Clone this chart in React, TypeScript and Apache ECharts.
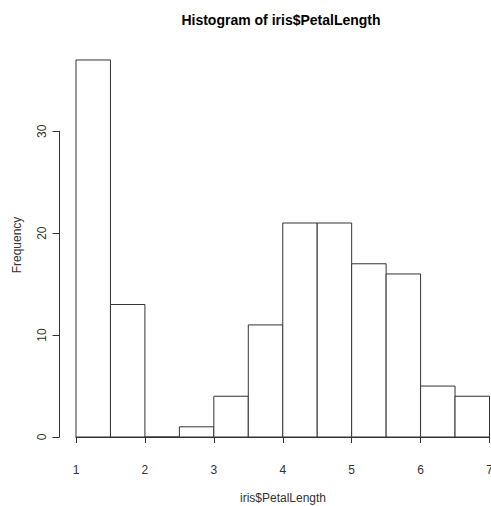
import React, { useEffect, useRef } from "react";
import * as echarts from "echarts";

const breaksStart = [1, 1.5, 2, 2.5, 3, 3.5, 4, 4.5, 5, 5.5, 6, 6.5];
const breaksEnd = [1.5, 2, 2.5, 3, 3.5, 4, 4.5, 5, 5.5, 6, 6.5, 7];
const counts = [37, 13, 0, 1, 4, 11, 21, 21, 17, 16, 5, 4];
const xTicks = [1, 2, 3, 4, 5, 6, 7];
const yTicks = [0, 10, 20, 30];

const FONT = "'Liberation Sans', Arial, Helvetica, sans-serif";
const LINE = "#333";
const TEXT = "#333";

export default function App() {
  const ref = useRef<HTMLDivElement>(null);
  useEffect(() => {
    document.body.style.margin = "0";
    const chart = echarts.init(ref.current!, undefined, { renderer: "svg" });
    const data = breaksStart.map((s, i) => [s, breaksEnd[i], counts[i]]);
    chart.setOption({
      animation: false,
      backgroundColor: "#fff",
      textStyle: { fontFamily: FONT },
      grid: [
        { left: 76, right: 1.5, top: 29.4, bottom: 69, containLabel: false, outerBoundsMode: "none" },
        { left: 76, right: 1.5, top: 131.3, bottom: 69, containLabel: false, outerBoundsMode: "none" },
      ],
      xAxis: [
        {
          type: "value",
          gridIndex: 0,
          min: xTicks[0],
          max: xTicks[xTicks.length - 1],
          interval: 1,
          position: "bottom",
          offset: 15.5,
          axisLine: { show: true, lineStyle: { color: LINE, width: 1 } },
          axisTick: { show: true, length: 6, inside: false, lineStyle: { color: LINE } },
          axisLabel: { show: true, margin: 11, color: TEXT, fontSize: 12, fontFamily: FONT, showMinLabel: true, showMaxLabel: true },
          splitLine: { show: false },
        },
        { type: "value", gridIndex: 1, min: 1, max: 7, show: false },
      ],
      yAxis: [
        { type: "value", gridIndex: 0, min: 0, max: 40, show: false },
        {
          type: "value",
          gridIndex: 1,
          min: yTicks[0],
          max: yTicks[yTicks.length - 1],
          interval: 10,
          position: "left",
          offset: 16.5,
          axisLine: { show: true, lineStyle: { color: LINE, width: 1 } },
          axisTick: { show: true, length: 7, inside: false, lineStyle: { color: LINE } },
          axisLabel: { show: true, rotate: 90, margin: 12, color: TEXT, fontSize: 12, fontFamily: FONT, showMinLabel: true, showMaxLabel: true },
          splitLine: { show: false },
        },
      ],
      graphic: [
        {
          type: "text",
          x: 281,
          y: 20,
          style: {
            text: "Histogram of iris$PetalLength",
            font: `bold 14px ${FONT}`,
            fill: "#000",
            textAlign: "center",
            textVerticalAlign: "middle",
          },
        },
        {
          type: "text",
          x: 283,
          y: 498,
          style: {
            text: "iris$PetalLength",
            font: `12px ${FONT}`,
            fill: TEXT,
            textAlign: "center",
            textVerticalAlign: "middle",
          },
        },
        {
          type: "text",
          x: 17,
          y: 245,
          rotation: Math.PI / 2,
          style: {
            text: "Frequency",
            font: `12px ${FONT}`,
            fill: TEXT,
            textAlign: "center",
            textVerticalAlign: "middle",
          },
        },
      ],
      series: [
        {
          type: "custom",
          xAxisIndex: 0,
          yAxisIndex: 0,
          data,
          renderItem: (params: any, api: any) => {
            const p0 = api.coord([api.value(0), api.value(2)]);
            const p1 = api.coord([api.value(1), 0]);
            return {
              type: "rect",
              shape: { x: p0[0], y: p0[1], width: p1[0] - p0[0], height: p1[1] - p0[1] },
              style: { fill: "#fff", stroke: LINE, lineWidth: 1 },
            };
          },
        },
      ],
    });
    return () => chart.dispose();
  }, []);
  return <div ref={ref} style={{ width: 491, height: 506 }} />;
}
